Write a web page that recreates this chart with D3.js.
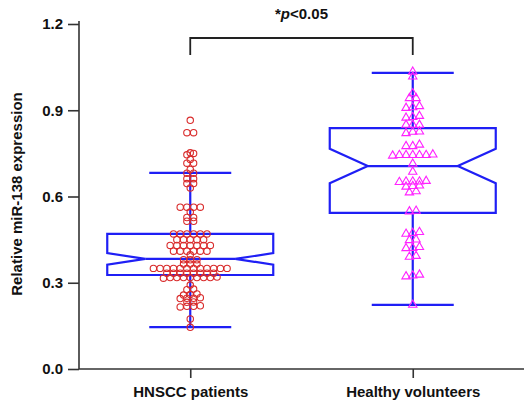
<!DOCTYPE html>
<html>
<head>
<meta charset="utf-8">
<script src="https://cdn.jsdelivr.net/npm/d3@7"></script>
<style>
  html, body { margin: 0; padding: 0; background: #fff; }
  svg { display: block; font-family: "Liberation Sans", Arial, sans-serif; }
</style>
</head>
<body>
<svg id="chart" width="524" height="404"></svg>
<script>
const categories = ["HNSCC patients", "Healthy volunteers"];

const hnscc = [
  0.145, 0.174,
  0.216, 0.218, 0.218, 0.220,
  0.232, 0.233,
  0.245, 0.246, 0.246, 0.248,
  0.257, 0.259, 0.261,
  0.276, 0.278,
  0.292,
  0.316, 0.318, 0.318, 0.318, 0.318, 0.318, 0.318, 0.318, 0.320,
  0.333, 0.333, 0.333, 0.333, 0.333, 0.333, 0.333, 0.333,
  0.350, 0.350, 0.350, 0.350, 0.350, 0.350, 0.350, 0.350, 0.350, 0.350, 0.350, 0.350,
  0.365, 0.365, 0.365,
  0.380, 0.380, 0.380,
  0.397,
  0.410, 0.410, 0.410, 0.410, 0.410, 0.410,
  0.430, 0.430, 0.430, 0.430, 0.430, 0.430, 0.430,
  0.450, 0.450, 0.450, 0.450, 0.450,
  0.470, 0.470, 0.470, 0.470, 0.470, 0.470,
  0.514, 0.514,
  0.527, 0.527,
  0.546,
  0.563, 0.563, 0.563, 0.563,
  0.630,
  0.645, 0.645,
  0.662, 0.662,
  0.681, 0.681,
  0.694,
  0.716, 0.716,
  0.729,
  0.745, 0.750, 0.752,
  0.822, 0.822,
  0.865
];

const healthy = [
  0.223,
  0.322, 0.325, 0.328,
  0.390, 0.393,
  0.420, 0.421, 0.424,
  0.448, 0.450,
  0.470, 0.473, 0.476,
  0.548, 0.550,
  0.614, 0.618,
  0.634, 0.636, 0.638,
  0.650, 0.652, 0.652, 0.652, 0.654,
  0.686,
  0.714,
  0.742, 0.744, 0.744, 0.744, 0.744, 0.744, 0.746,
  0.775, 0.775, 0.780,
  0.820, 0.825, 0.826,
  0.849, 0.849, 0.849,
  0.874, 0.876, 0.880,
  0.908, 0.910, 0.914,
  0.942, 0.942,
  0.959,
  1.017,
  1.034
];

// Notched box summaries per group
const whiskerLow  = [0.146, 0.223];
const q1          = [0.327, 0.543];
const median      = [0.383, 0.706];
const q3          = [0.470, 0.838];
const whiskerHigh = [0.682, 1.030];
const notchHalf   = [0.020, 0.060];

const yTicks = [0, 0.3, 0.6, 0.9, 1.2];
const yTitle = "Relative miR-138 expression";

const svg = d3.select("#chart");
const blue = "#1f1ff5";
const axisColor = "#333";

const x = d3.scalePoint().domain(categories).range([79, 524]).padding(0.5);
const y = d3.scaleLinear().domain([0, 1.2]).range([369, 24]);

// axes
const yAxis = svg.append("g").attr("transform", "translate(79,0)")
  .call(d3.axisLeft(y).tickValues(yTicks).tickFormat(d3.format(".1f")).tickSizeOuter(0).tickSize(11).tickPadding(5));
const xAxis = svg.append("g").attr("transform", "translate(0,369)")
  .call(d3.axisBottom(x).tickSizeOuter(0).tickSize(9).tickPadding(8));

[yAxis, xAxis].forEach(a => {
  a.selectAll("path, line").attr("stroke", axisColor).attr("stroke-width", 1.6);
  a.selectAll("text").attr("fill", "#111").style("font-size", "15px").style("font-weight", "bold");
});
xAxis.select(".domain").attr("d", "M79,0H524");
yAxis.select(".domain").attr("d", "M0,21V369");

svg.append("text")
  .attr("transform", "translate(22,194) rotate(-90)")
  .attr("text-anchor", "middle")
  .style("font-size", "15px").style("font-weight", "bold").attr("fill", "#111")
  .text(yTitle);

// notched boxes
const boxHalf = 83, notchInner = 45, capHalf = 41;
categories.forEach((c, i) => {
  const cx = x(c);
  const g = svg.append("g").attr("stroke", blue).attr("stroke-width", 2.2).attr("fill", "none");
  const pts = [
    [cx - boxHalf, y(q3[i])], [cx + boxHalf, y(q3[i])],
    [cx + boxHalf, y(median[i] + notchHalf[i])], [cx + notchInner, y(median[i])],
    [cx + boxHalf, y(median[i] - notchHalf[i])], [cx + boxHalf, y(q1[i])],
    [cx - boxHalf, y(q1[i])], [cx - boxHalf, y(median[i] - notchHalf[i])],
    [cx - notchInner, y(median[i])], [cx - boxHalf, y(median[i] + notchHalf[i])]
  ];
  g.append("path").attr("d", d3.line()(pts) + "Z").attr("stroke-linejoin", "miter");
  g.append("line").attr("x1", cx - notchInner).attr("x2", cx + notchInner)
    .attr("y1", y(median[i])).attr("y2", y(median[i]));
  g.append("line").attr("x1", cx).attr("x2", cx).attr("y1", y(q3[i])).attr("y2", y(whiskerHigh[i]));
  g.append("line").attr("x1", cx).attr("x2", cx).attr("y1", y(q1[i])).attr("y2", y(whiskerLow[i]));
  g.append("line").attr("x1", cx - capHalf).attr("x2", cx + capHalf)
    .attr("y1", y(whiskerHigh[i])).attr("y2", y(whiskerHigh[i]));
  g.append("line").attr("x1", cx - capHalf).attr("x2", cx + capHalf)
    .attr("y1", y(whiskerLow[i])).attr("y2", y(whiskerLow[i]));
});

// column scatter: close values share a row, rows centred on the group
function swarmRows(values, gap) {
  const rows = [];
  values.slice().sort((a, b) => a - b).forEach(v => {
    const last = rows[rows.length - 1];
    if (last && v - last[0] < gap) last.push(v); else rows.push([v]);
  });
  const out = [];
  rows.forEach(r => r.forEach((v, k) => out.push({ v, k: k - (r.length - 1) / 2 })));
  return out;
}

const step = 6.7;
svg.append("g").selectAll("circle").data(swarmRows(hnscc, 0.007)).join("circle")
  .attr("cx", d => x(categories[0]) + d.k * step)
  .attr("cy", d => y(d.v))
  .attr("r", 3.2)
  .attr("fill", "none").attr("stroke", "#d92b2b").attr("stroke-width", 1.1);

const tri = d3.symbol().type(d3.symbolTriangle).size(30);
svg.append("g").selectAll("path").data(swarmRows(healthy, 0.007)).join("path")
  .attr("d", tri)
  .attr("transform", d => `translate(${x(categories[1]) + d.k * step},${y(d.v)})`)
  .attr("fill", "none").attr("stroke", "#ff22ff").attr("stroke-width", 1.1);

// significance bracket
const bx0 = x(categories[0]), bx1 = x(categories[1]);
svg.append("path")
  .attr("d", `M${bx0},55V38H${bx1}V55`)
  .attr("fill", "none").attr("stroke", "#222").attr("stroke-width", 1.8);

const pText = svg.append("text")
  .attr("x", (bx0 + bx1) / 2).attr("y", 19)
  .attr("text-anchor", "middle")
  .style("font-size", "15px").style("font-weight", "bold").attr("fill", "#111");
pText.append("tspan").text("*");
pText.append("tspan").style("font-style", "italic").text("p");
pText.append("tspan").text("<0.05");
</script>
</body>
</html>
